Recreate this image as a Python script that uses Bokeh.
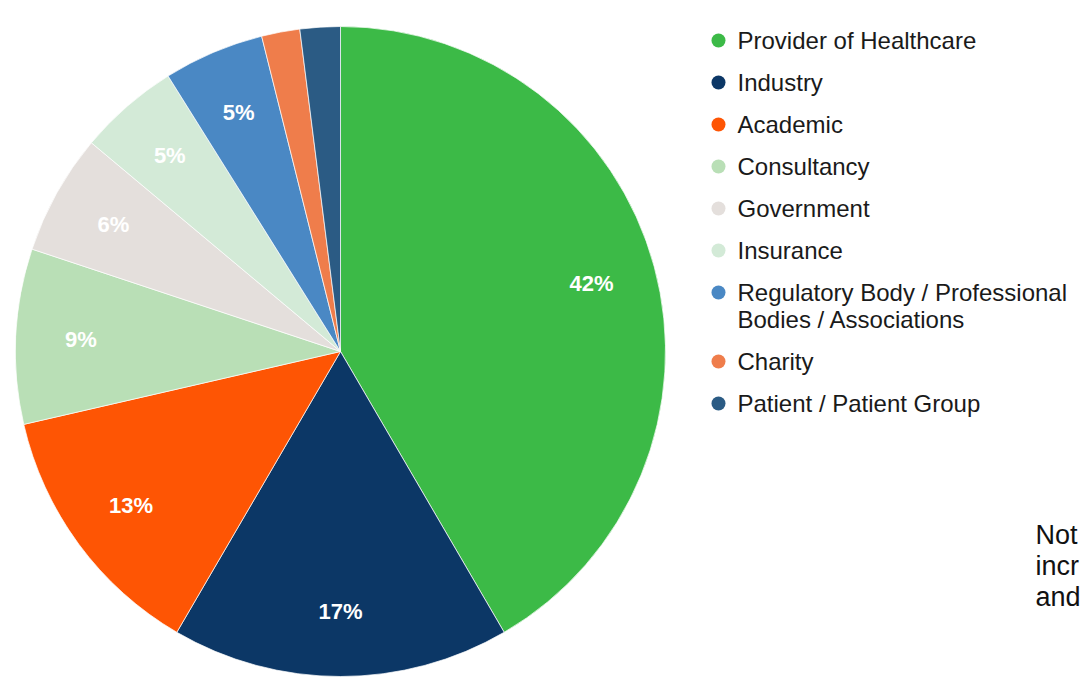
import math
from bokeh.plotting import figure
from bokeh.models import Range1d, ColumnDataSource
from bokeh.core.properties import value
from bokeh.embed import file_html
from bokeh.resources import INLINE

# ---- data ----
categories = ["Provider of Healthcare", "Industry", "Academic", "Consultancy",
              "Government", "Insurance",
              "Regulatory Body / Professional Bodies / Associations",
              "Charity", "Patient / Patient Group"]
legend_lines = [["Provider of Healthcare"], ["Industry"], ["Academic"], ["Consultancy"],
                ["Government"], ["Insurance"],
                ["Regulatory Body / Professional", "Bodies / Associations"],
                ["Charity"], ["Patient / Patient Group"]]
shares = [41.6, 16.8, 13.0, 8.7, 6.0, 5.0, 5.0, 1.9, 2.0]
labels = ["42%", "17%", "13%", "9%", "6%", "5%", "5%", "", ""]
colors = ["#3cba47", "#0c3766", "#fe5504", "#b9dfb6", "#e4dfdc",
          "#d3ead7", "#4a88c4", "#ef7d4b", "#2b5b84"]
note_lines = ["Not", "incr", "and"]

W, H = 1082, 679
p = figure(width=W, height=H, output_backend="svg", toolbar_location=None,
           x_range=Range1d(0, W), y_range=Range1d(0, H), min_border=0)
p.axis.visible = False
p.grid.visible = False
p.outline_line_color = None
p.background_fill_color = "white"

cx, cy, R = 340, H - 351, 325
total = sum(shares)
starts, ends, lx, ly = [], [], [], []
cum = 0.0
for s in shares:
    a0 = math.pi / 2 - cum / total * 2 * math.pi
    cum += s
    a1 = math.pi / 2 - cum / total * 2 * math.pi
    starts.append(a0)
    ends.append(a1)
    mid = (a0 + a1) / 2
    lx.append(cx + 0.8 * R * math.cos(mid))
    ly.append(cy + 0.8 * R * math.sin(mid))

src = ColumnDataSource(dict(start=starts, end=ends, color=colors, lx=lx, ly=ly, label=labels))
p.wedge(x=cx, y=cy, radius=R, start_angle="start", end_angle="end", direction="clock",
        fill_color="color", line_color="white", line_width=0.7, source=src)
p.text(x="lx", y="ly", text="label", source=src, text_color="white",
       text_font=value("Liberation Sans"), text_font_style="bold",
       text_font_size="22px", text_align="center", text_baseline="middle")

# legend
dot_x, dot_y, txt_x = 718, H - 40, 737
row_gap, line_gap = 42, 27
dxs, dys, cols, tx, ty, tt = [], [], [], [], [], []
y = dot_y
for lines, c in zip(legend_lines, colors):
    dxs.append(dot_x)
    dys.append(y)
    cols.append(c)
    for j, ln in enumerate(lines):
        tx.append(txt_x)
        ty.append(y - j * line_gap)
        tt.append(ln)
    y -= row_gap + (len(lines) - 1) * line_gap
p.scatter(x=dxs, y=dys, size=14, marker="circle", fill_color=cols, line_color=None)
p.text(x=tx, y=ty, text=tt, text_color="#1a1a1a", text_font=value("Liberation Sans"),
       text_font_size="24px", text_align="left", text_baseline="middle")

# partially visible note
nx = [1035] * len(note_lines)
ny = [H - 534 - 31 * i for i in range(len(note_lines))]
p.text(x=nx, y=ny, text=note_lines, text_color="#111111", text_font=value("Liberation Sans"),
       text_font_size="27px", text_align="left", text_baseline="middle")

open("out.html", "w").write(file_html(p, INLINE))
